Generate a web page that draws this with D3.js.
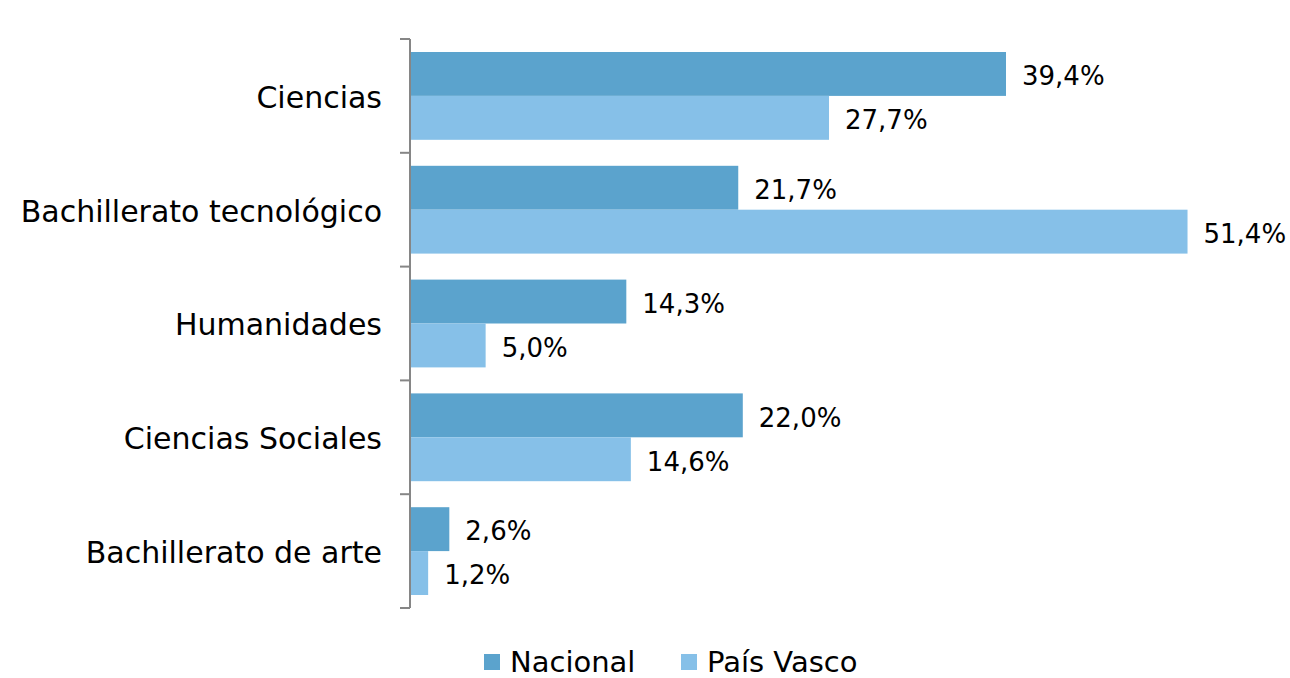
<!DOCTYPE html>
<html>
<head>
<meta charset="utf-8">
<script src="https://cdn.jsdelivr.net/npm/d3@7"></script>
<style>
  body { margin: 0; background: #fff; }
  text { font-family: "DejaVu Sans", sans-serif; fill: #000; }
</style>
</head>
<body>
<script>
// chart data
var categories = ["Ciencias", "Bachillerato tecnológico", "Humanidades", "Ciencias Sociales", "Bachillerato de arte"];
var series = ["Nacional", "País Vasco"];
var nacional = [39.4, 21.7, 14.3, 22.0, 2.6];
var paisVasco = [27.7, 51.4, 5.0, 14.6, 1.2];
var colors = ["#5ba3cd", "#86c0e8"];

var w = 1290, h = 678;
var plotLeft = 410, plotTop = 39, plotBottom = 608;

var svg = d3.select("body").append("svg")
            .attr("width", w)
            .attr("height", h);

var x = d3.scaleLinear().domain([0, 39.4]).range([plotLeft, 1006]);
var y0 = d3.scaleBand().domain(categories).range([plotTop, plotBottom]);

var fmt = function(v) { return v.toFixed(1).replace(".", ",") + "%"; };

var rows = categories.map(function(c, i) {
  return { cat: c, vals: [nacional[i], paisVasco[i]] };
});

var bandPad = 13;
var barH = (y0.bandwidth() - 2 * bandPad) / 2;

var g = svg.selectAll("g.row")
   .data(rows)
   .enter().append("g")
   .attr("class", "row")
   .attr("transform", function(d) { return "translate(0," + (y0(d.cat) + bandPad) + ")"; });

g.selectAll("rect")
 .data(function(d) { return d.vals; })
 .enter().append("rect")
 .attr("x", x(0))
 .attr("y", function(d, i) { return i * barH; })
 .attr("width", function(d) { return x(d) - x(0); })
 .attr("height", barH)
 .attr("fill", function(d, i) { return colors[i]; });

g.selectAll("text.val")
 .data(function(d) { return d.vals; })
 .enter().append("text")
 .attr("class", "val")
 .attr("x", function(d) { return x(d) + 16; })
 .attr("y", function(d, i) { return i * barH + barH / 2 + 2; })
 .attr("dy", "0.36em")
 .attr("font-size", 26)
 .text(fmt);

// category axis
svg.append("line")
   .attr("x1", plotLeft).attr("x2", plotLeft)
   .attr("y1", plotTop).attr("y2", plotBottom)
   .attr("stroke", "#868686").attr("stroke-width", 2);

svg.selectAll("line.tick")
   .data(categories.concat([null]))
   .enter().append("line")
   .attr("class", "tick")
   .attr("x1", plotLeft - 10).attr("x2", plotLeft)
   .attr("y1", function(d) { return d === null ? plotBottom : y0(d); })
   .attr("y2", function(d) { return d === null ? plotBottom : y0(d); })
   .attr("stroke", "#868686").attr("stroke-width", 2);

svg.selectAll("text.cat")
   .data(categories)
   .enter().append("text")
   .attr("class", "cat")
   .attr("x", 382)
   .attr("y", function(d) { return y0(d) + y0.bandwidth() / 2 + 1; })
   .attr("dy", "0.36em")
   .attr("text-anchor", "end")
   .attr("font-size", 30)
   .text(function(d) { return d; });

// legend
var legX = [484, 681];
var leg = svg.selectAll("g.leg")
   .data(series)
   .enter().append("g")
   .attr("class", "leg")
   .attr("transform", function(d, i) { return "translate(" + legX[i] + ",654)"; });

leg.append("rect")
   .attr("width", 16).attr("height", 16)
   .attr("fill", function(d, i) { return colors[i]; });

leg.append("text")
   .attr("x", 26).attr("y", 8)
   .attr("dy", "0.36em")
   .attr("font-size", 29)
   .text(function(d) { return d; });
</script>
</body>
</html>
